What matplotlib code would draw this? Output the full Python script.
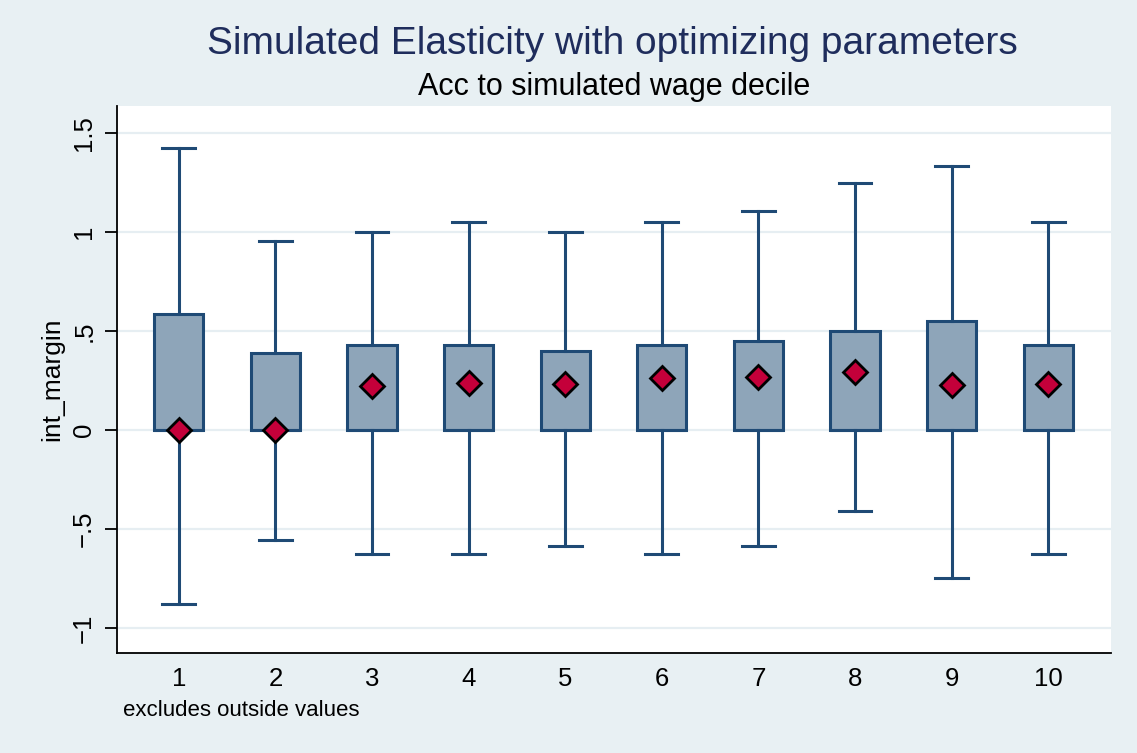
import matplotlib
matplotlib.use("Agg")
import matplotlib.pyplot as plt

# decile box stats
deciles = [1, 2, 3, 4, 5, 6, 7, 8, 9, 10]
q1 = [0, 0, 0, 0, 0, 0, 0, 0, 0, 0]
med = [0, 0, 0, 0, 0, 0, 0, 0, 0, 0]
q3 = [0.586, 0.389, 0.429, 0.429, 0.399, 0.429, 0.450, 0.500, 0.552, 0.429]
whis_lo = [-0.879, -0.556, -0.626, -0.626, -0.586, -0.626, -0.586, -0.409, -0.747, -0.626]
whis_hi = [1.424, 0.955, 1.0, 1.05, 1.0, 1.05, 1.106, 1.249, 1.333, 1.05]
means = [0.0, 0.0, 0.222, 0.237, 0.232, 0.263, 0.268, 0.294, 0.227, 0.232]

yticks = [-1, -0.5, 0, 0.5, 1, 1.5]
ytick_labels = ["\u22121", "\u2212.5", "0", ".5", "1", "1.5"]

bg = "#e8f0f3"
navy = "#1f4a75"

plt.rcParams['font.family'] = ['Liberation Sans', 'DejaVu Sans']

fig = plt.figure(figsize=(11.37, 7.53), dpi=100, facecolor=bg)
ax = fig.add_axes([0.1029, 0.1328, 0.8742, 0.7264])
ax.set_facecolor("white")

stats = []
for i in range(len(deciles)):
    stats.append({"q1": q1[i], "med": med[i], "q3": q3[i],
                  "whislo": whis_lo[i], "whishi": whis_hi[i],
                  "mean": means[i], "fliers": []})

ax.bxp(stats, positions=deciles, widths=0.51, patch_artist=True,
       showmeans=True, showfliers=False,
       boxprops=dict(facecolor="#8ea5b9", edgecolor=navy, linewidth=2.2),
       whiskerprops=dict(color=navy, linewidth=2.2),
       capprops=dict(color=navy, linewidth=2.2),
       medianprops=dict(color=navy, linewidth=2.2),
       meanprops=dict(marker="D", markerfacecolor="#c4003a",
                      markeredgecolor="black", markersize=12,
                      markeredgewidth=2),
       capwidths=0.34, zorder=3)

ax.set_xlim(0.36, 10.65)
ax.set_ylim(-1.126, 1.636)
ax.set_yticks(yticks)
ax.set_yticklabels(ytick_labels, rotation=90, va="center", fontsize=18.5)
ax.set_xticks(deciles)
ax.set_xticklabels([str(d) for d in deciles], fontsize=18.5)
ax.tick_params(axis="x", length=0, pad=10)
ax.tick_params(axis="y", length=9, width=1.3, pad=6)
ax.grid(axis="y", color="#e6eef2", linewidth=1.6, zorder=0)
ax.set_axisbelow(True)

for s in ["top", "right"]:
    ax.spines[s].set_visible(False)
for s in ["left", "bottom"]:
    ax.spines[s].set_linewidth(1.3)

ax.set_ylabel("int_margin", fontsize=19, labelpad=6)

fig.text(0.539, 0.942, "Simulated Elasticity with optimizing parameters",
         ha="center", va="center", fontsize=28, color="#1f2d5c")
fig.text(0.54, 0.884, "Acc to simulated wage decile",
         ha="center", va="center", fontsize=22, color="black")
fig.text(0.108, 0.057, "excludes outside values", ha="left", va="center",
         fontsize=16, color="black")

fig.savefig("out.png", dpi=100, facecolor=bg)
